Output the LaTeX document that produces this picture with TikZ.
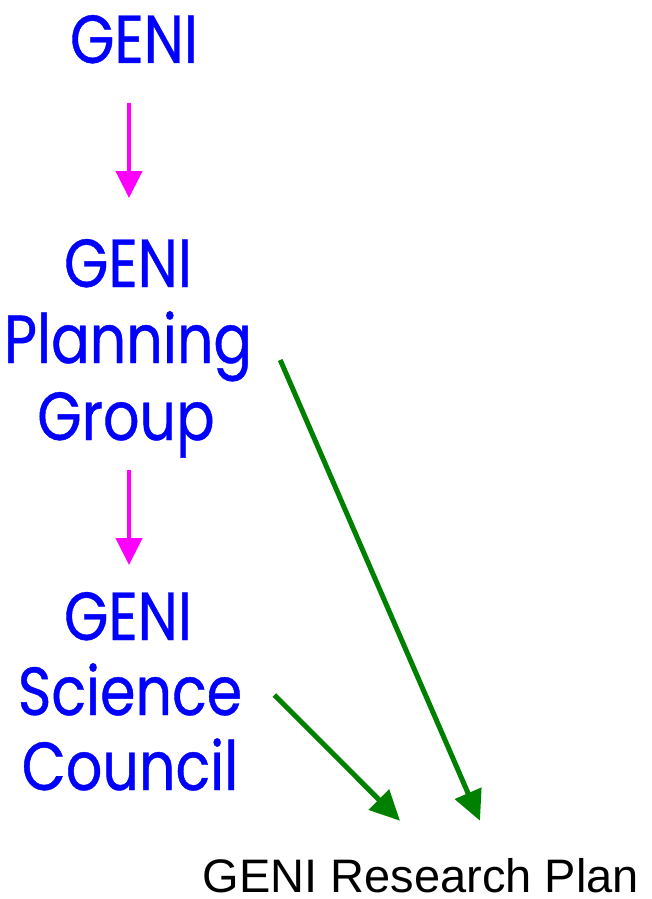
\documentclass[tikz,border=0pt]{standalone}
\usepackage{fontspec}
\setmainfont{Liberation Sans}
\newfontfamily\comicfont[FakeStretch=0.84,FakeBold=0.6]{Poppins}
\usetikzlibrary{arrows.meta,calc}
\definecolor{pk}{RGB}{255,0,255}
\definecolor{gr}{RGB}{0,128,0}
\definecolor{bl}{RGB}{0,0,255}
\tikzset{
  blueline/.style={anchor=base,inner sep=0pt,text=bl,font=\comicfont\fontsize{68}{76}\selectfont},
  pinkarrow/.style={draw=pk,line width=4.5pt,-{Triangle[length=27pt,width=26pt]}},
  greenarrow/.style={draw=gr,line width=5pt,-{Triangle[length=30pt,width=28pt]}},
}
\begin{document}
\begin{tikzpicture}[x=1pt,y=1pt]
\useasboundingbox (0,0) rectangle (652,-899);
\node[blueline] (g1) at (134,-63) {GENI};
\node[blueline] (g2) at (128,-287) {GENI};
\node[blueline] (pl) at (128,-363) {Planning};
\node[blueline] (gp) at (126,-440) {Group};
\node[blueline] (g3) at (128,-640) {GENI};
\node[blueline] (sc) at (130,-715) {Science};
\node[blueline] (co) at (130,-790) {Council};
\node[anchor=base,inner sep=0pt,font=\fontsize{47}{52}\selectfont] (rp) at (421,-892) {GENI Research Plan};
\draw[pinkarrow] ($(g1.base)+(-5,-40)$) -- ($(g2.base)+(1,89)$);
\draw[pinkarrow] ($(gp.base)+(3,-30)$) -- ($(g3.base)+(1,75)$);
\draw[greenarrow] ($(pl.base east)+(28,3)$) -- ($(rp.north)+(59,37)$);
\draw[greenarrow] ($(sc.base east)+(32,20)$) -- ($(rp.north)+(-21,37)$);
\end{tikzpicture}
\end{document}
